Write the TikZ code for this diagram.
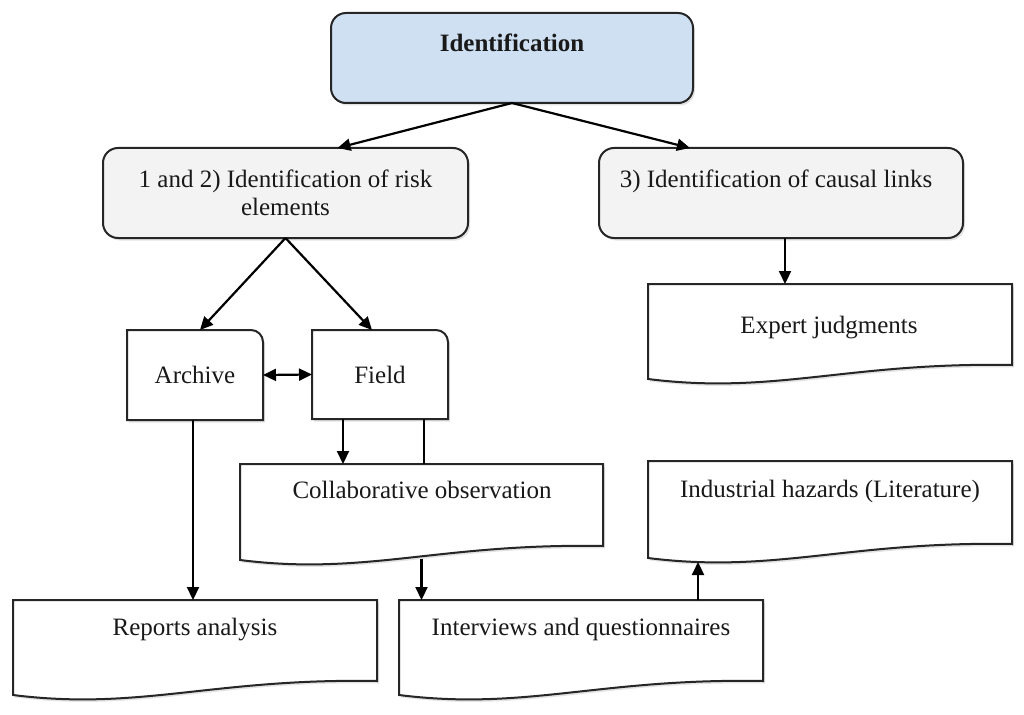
\documentclass[tikz,border=0pt]{standalone}
\usepackage{fontspec}
\setmainfont{Liberation Serif}
\usetikzlibrary{arrows.meta,calc,shadows}
\definecolor{identblue}{HTML}{CFE0F3}
\definecolor{boxgray}{HTML}{F3F3F3}
\tikzset{
  shadowed/.style={drop shadow={shadow xshift=2pt, shadow yshift=-2.5pt, opacity=0.22}},
  anch/.style={inner sep=0pt, outer sep=0pt, minimum width=#1},
  roundbox/.style={draw=black!85, line width=2pt, rounded corners=15pt, inner sep=0pt, outer sep=0pt, shadowed},
  docstyle/.style={draw=black!85, line width=2pt, fill=white, shadowed},
  lbl/.style={font=\fontsize{25}{30}\selectfont, inner sep=0pt, anchor=base, text=black!90},
  conn/.style={line width=2.2pt, -{Triangle[length=13pt,width=12pt]}},
}
\newcommand\docshape[1]{%
  \path[docstyle] (#1.north west) -- (#1.north east) -- (#1.south east)
    .. controls ($(#1.south east)+(-164,-3)$) and ($(#1.south east)+(-237,30)$) ..
    ($(#1.south west)+(0,14)$) -- cycle;}
\newcommand\tabshape[1]{%
  \path[docstyle] (#1.south west) -- (#1.north west) -- ([xshift=-12pt]#1.north east)
    .. controls ([xshift=-5.4pt]#1.north east) and ([yshift=-5.4pt]#1.north east) ..
    ([yshift=-12pt]#1.north east) -- (#1.south east) -- cycle;}
\begin{document}
\begin{tikzpicture}[x=1pt,y=-1pt]
\useasboundingbox (0,0) rectangle (1024,714);

% top box
\node[roundbox, fill=identblue, minimum width=362pt, minimum height=90pt] (ident) at (512,58) {};
\node[lbl, font=\fontsize{25}{30}\selectfont\bfseries] (identt) at (512,52) {Identification};

% second level
\node[roundbox, fill=boxgray, minimum width=365pt, minimum height=90pt] (lbox) at (285.5,193) {};
\node[lbl] (lboxt1) at (285.5,187) {1 and 2) Identification of risk};
\node[lbl] (lboxt2) at (285.5,215) {elements};

\node[roundbox, fill=boxgray, minimum width=364pt, minimum height=90pt] (rbox) at (781,193) {};
\node[lbl] (rboxt) at (776,187) {3) Identification of causal links};

% archive and field
\node[anch=136pt, minimum height=90pt] (archive) at (195,375) {};
\tabshape{archive}
\node[lbl] (archivet) at (195,383) {Archive};

\node[anch=136pt, minimum height=89pt] (field) at (380,374.5) {};
\tabshape{field}
\node[lbl] (fieldt) at (380,383) {Field};

% document shapes
\node[anch=364pt, minimum height=81pt, anchor=north west] (expert) at (648,284) {};
\docshape{expert}
\node[lbl] (expertt) at (829,333) {Expert judgments};

\node[anch=363pt, minimum height=82pt, anchor=north west] (collab) at (240,464) {};
\docshape{collab}
\node[lbl] (collabt) at (422,498) {Collaborative observation};

\node[anch=364pt, minimum height=83pt, anchor=north west] (industrial) at (648,461) {};
\docshape{industrial}
\node[lbl] (industrialt) at (830,497) {Industrial hazards (Literature)};

\node[anch=364pt, minimum height=81pt, anchor=north west] (reports) at (13,600) {};
\docshape{reports}
\node[lbl] (reportst) at (195,635) {Reports analysis};

\node[anch=364pt, minimum height=81pt, anchor=north west] (interviews) at (399,600) {};
\docshape{interviews}
\node[lbl] (interviewst) at (581,635) {Interviews and questionnaires};

% connectors
\draw[conn] (ident.south) -- ([xshift=52pt]lbox.north);
\draw[conn] (ident.south) -- ([xshift=-91pt]rbox.north);
\draw[conn] (lbox.south) -- ([xshift=5pt]archive.north);
\draw[conn] (lbox.south) -- ([xshift=-8pt]field.north);
\draw[line width=2.2pt, {Triangle[length=13pt,width=12pt]}-{Triangle[length=13pt,width=12pt]}] (archive.east) -- (field.west);
\draw[conn] ([xshift=4pt]rbox.south) -- ([xshift=4pt]rbox.south |- expert.north);
\draw[conn] ([xshift=-2pt]archive.south) -- ([xshift=-2pt]archive.south |- reports.north);
\draw[conn] ([xshift=-37pt]field.south) -- ([xshift=-37pt]field.south |- collab.north);
\draw[line width=2.2pt] ([xshift=44pt]field.south) -- ([xshift=44pt]field.south |- collab.north);
\coordinate (collabb) at ([yshift=-13pt]collab.south);
\coordinate (intin) at ([xshift=-159.5pt]interviews.north);
\draw[conn] (collabb) -- (intin);
\coordinate (industb) at ([xshift=50pt,yshift=-18pt]industrial.south west);
\draw[conn] (interviews.north -| industb) -- (industb);
\end{tikzpicture}
\end{document}
